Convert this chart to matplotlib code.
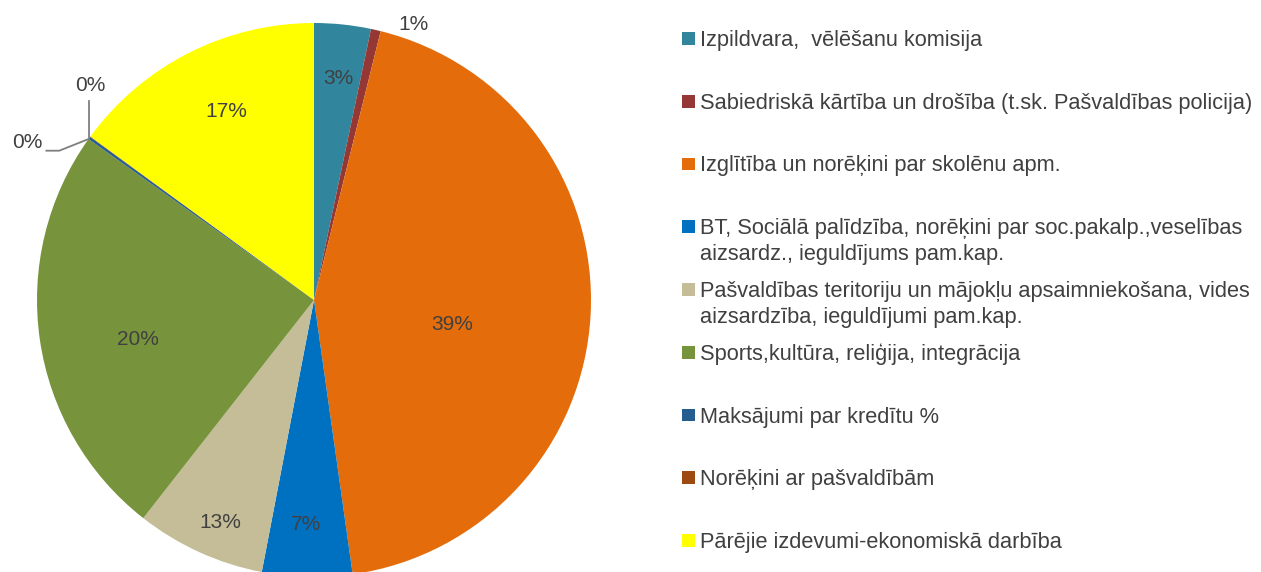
import numpy as np
import matplotlib
matplotlib.use("Agg")
import matplotlib.pyplot as plt
from matplotlib.patches import Rectangle

# nozares (kategorijas)
categories = [
    "Izpildvara,  vēlēšanu komisija",
    "Sabiedriskā kārtība un drošība (t.sk. Pašvaldības policija)",
    "Izglītība un norēķini par skolēnu apm.",
    "BT, Sociālā palīdzība, norēķini par soc.pakalp.,veselības\naizsardz., ieguldījums pam.kap.",
    "Pašvaldības teritoriju un mājokļu apsaimniekošana, vides\naizsardzība, ieguldījumi pam.kap.",
    "Sports,kultūra, reliģija, integrācija",
    "Maksājumi par kredītu %",
    "Norēķini ar pašvaldībām",
    "Pārējie izdevumi-ekonomiskā darbība",
]
# daļas (%), nolasītas no attēla
shares = [3.3, 0.57, 43.9, 5.25, 7.55, 24.3, 0.15, 0.03, 14.95]
# uzraksti kā attēlā
pct_labels = ["3%", "1%", "39%", "7%", "13%", "20%", "0%", "0%", "17%"]
colors = ["#31859C", "#953735", "#E46C0A", "#0070C0", "#C4BD97",
          "#77933C", "#245D8F", "#9C4A10", "#FFFF00"]

label_xy = [(0.087, 0.798), (0.361, 0.996), (0.498, -0.087), (-0.029, -0.809),
            (-0.339, -0.805), (-0.635, -0.141), (-1.036, 0.570), (-0.809, 0.773),
            (-0.318, 0.679)]

txt_color = "#404040"
plt.rcParams["font.family"] = ["Liberation Sans", "DejaVu Sans"]

W, H = 1261, 572
fig = plt.figure(figsize=(W / 100, H / 100), dpi=100)

cx, cy, r = 314, 300, 277
ax = fig.add_axes([(cx - r) / W, (H - cy - r) / H, 2 * r / W, 2 * r / H])
wedges, _ = ax.pie(shares, colors=colors, startangle=90, counterclock=False,
                   wedgeprops=dict(linewidth=0))
ax.set_xlim(-1, 1)
ax.set_ylim(-1, 1)
ax.set_aspect("equal")
ax.axis("off")

for (x, y), t in zip(label_xy, pct_labels):
    ax.text(x, y, t, ha="center", va="center", fontsize=15, color=txt_color)

# lidera līnijas mazajām daļām
th = np.deg2rad(wedges[6].theta2)
px, py = np.cos(th), np.sin(th)
ax.plot([px, px], [py, 0.7195], color="#7F7F7F", lw=1.3, clip_on=False)
ax.plot([px, -0.9195, -0.966], [py, 0.539, 0.539], color="#7F7F7F", lw=1.3, clip_on=False)

# leģenda
y0, step, line_h = 38.5, 62.75, 26
for i, (lab, c) in enumerate(zip(categories, colors)):
    yc = y0 + i * step
    fig.patches.append(Rectangle((682 / W, 1 - (yc + 6.3) / H), 12.5 / W, 12.6 / H,
                                 transform=fig.transFigure, facecolor=c, edgecolor="none"))
    for j, line in enumerate(lab.split("\n")):
        fig.text(700 / W, 1 - (yc + 2 + j * line_h) / H, line, ha="left", va="center",
                 fontsize=15.7, color=txt_color)

fig.savefig("out.png", dpi=100)
